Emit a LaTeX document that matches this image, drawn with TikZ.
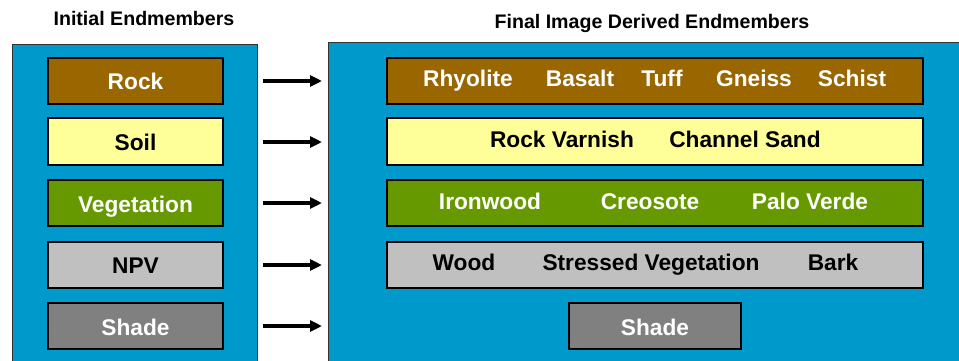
\documentclass[tikz,border=0pt]{standalone}
\usepackage{fontspec}
\setmainfont{Liberation Sans}
\usetikzlibrary{arrows.meta}
\definecolor{panelblue}{HTML}{0099CC}
\definecolor{rockc}{HTML}{996600}
\definecolor{soilc}{HTML}{FFFF99}
\definecolor{vegc}{HTML}{669900}
\definecolor{npvc}{HTML}{C0C0C0}
\definecolor{shadec}{HTML}{808080}
\tikzset{
  panel/.style={draw=black!80, line width=1pt, fill=panelblue},
  ebox/.style={draw=black, line width=1.4pt, fill=#1},
  lbl/.style={anchor=base, inner sep=0pt, font=\fontsize{22.7}{27}\selectfont\bfseries, text=#1},
  ttl/.style={anchor=base, inner sep=0pt, font=\fontsize{19.6}{23}\selectfont\bfseries},
  flow/.style={line width=3.5pt, -{Triangle[length=12pt,width=11pt]}}
}
\begin{document}
\begin{tikzpicture}[x=1pt,y=-1pt]
\useasboundingbox (0,0) rectangle (959,360);
% panels
\path[panel] (12,44) rectangle (257,370);
\path[panel] (328,42) rectangle (970,370);
% titles
\node[ttl] (t1) at (144,25) {Initial Endmembers};
\node[ttl] (t2) at (652,28) {Final Image Derived Endmembers};
% left boxes
\path[ebox=rockc]  (48,58)  rectangle (223,104);
\path[ebox=soilc]  (48,118) rectangle (223,165);
\path[ebox=vegc]   (48,180) rectangle (223,226);
\path[ebox=npvc]   (48,242) rectangle (223,288);
\path[ebox=shadec] (48,303) rectangle (223,349);
\node[lbl=white] (l1) at (135.5,89) {Rock};
\node[lbl=black] (l2) at (135.5,150) {Soil};
\node[lbl=white] (l3) at (135.5,212) {Vegetation};
\node[lbl=black] (l4) at (135.5,273) {NPV};
\node[lbl=white] (l5) at (135.5,335) {Shade};
% right boxes
\path[ebox=rockc]  (387,58)  rectangle (923,104);
\path[ebox=soilc]  (387,118) rectangle (923,165);
\path[ebox=vegc]   (387,180) rectangle (923,226);
\path[ebox=npvc]   (387,242) rectangle (923,288);
\path[ebox=shadec] (569,303) rectangle (741,349);
\node[lbl=white] (r1a) at (468,86) {Rhyolite};
\node[lbl=white] (r1b) at (580,86) {Basalt};
\node[lbl=white] (r1c) at (662,86) {Tuff};
\node[lbl=white] (r1d) at (754,86) {Gneiss};
\node[lbl=white] (r1e) at (852,86) {Schist};
\node[lbl=black] (r2a) at (562,147) {Rock Varnish};
\node[lbl=black] (r2b) at (745,147) {Channel Sand};
\node[lbl=white] (r3a) at (490,209) {Ironwood};
\node[lbl=white] (r3b) at (650,209) {Creosote};
\node[lbl=white] (r3c) at (810,209) {Palo Verde};
\node[lbl=black] (r4a) at (464,270) {Wood};
\node[lbl=black] (r4b) at (651,270) {Stressed Vegetation};
\node[lbl=black] (r4c) at (833,270) {Bark};
\node[lbl=white] (r5a) at (655,335) {Shade};
% arrows
\foreach \i/\y in {1/81,2/142,3/203,4/265,5/326}{
  \coordinate (as\i) at (263,\y);
  \coordinate (ae\i) at (322,\y);
  \draw[flow] (as\i) -- (ae\i);
}
\end{tikzpicture}
\end{document}
